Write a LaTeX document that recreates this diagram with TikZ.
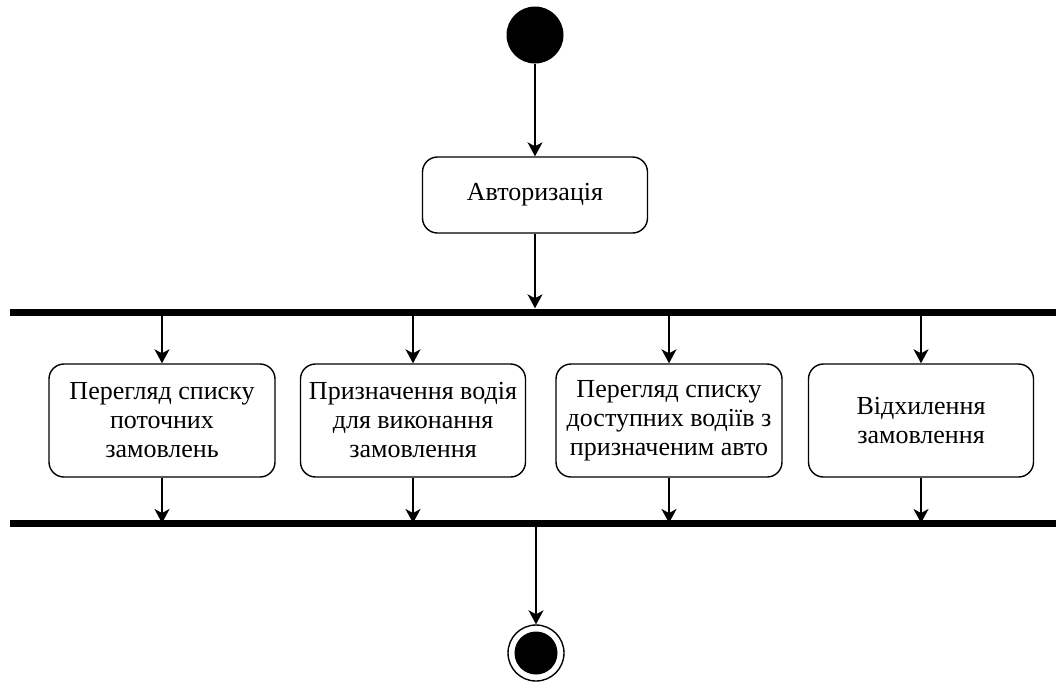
\documentclass[tikz,border=0pt]{standalone}
\usepackage{fontspec}
\setmainfont{Liberation Serif}
\usetikzlibrary{arrows.meta}
\begin{document}
\begin{tikzpicture}[x=1pt,y=-1pt,
  flow/.style={draw=black,line width=1.7pt,-{Stealth[length=14pt,width=15pt,inset=4pt]}},
  action/.style={draw=black,line width=1.4pt,rounded corners=15pt,fill=white,
    align=center,font=\fontsize{26}{29}\selectfont,inner sep=0pt},
  syncbar/.style={fill=black,draw=none,minimum height=7pt,inner sep=0pt},
  initial/.style={circle,fill=black,minimum size=57pt,inner sep=0pt},
  finalring/.style={circle,draw=black,line width=1.4pt,fill=white,minimum size=56pt,inner sep=0pt},
]
\useasboundingbox (0,0) rectangle (1056,686);

% start and first activity
\node[initial] (start) at (535,35) {};
\node[action,minimum width=225pt,minimum height=76pt] (auth) at (535,195) {Авторизація};

% fork and join bars
\node[syncbar,minimum width=1046pt] (fork) at (533,312) {};
\node[syncbar,minimum width=1046pt] (join) at (533,523) {};

% parallel activities
\node[action,minimum width=226pt,minimum height=113pt] (a1) at (162,420.5)
  {Перегляд списку\\поточних\\замовлень};
\node[action,minimum width=225pt,minimum height=113pt] (a2) at (413,420.5)
  {Призначення водія\\для виконання\\замовлення};
\node[action,minimum width=226pt,minimum height=113pt] (a3) at (669,420.5)
  {Перегляд списку\\доступних водіїв з\\призначеним авто};
\node[action,minimum width=225pt,minimum height=113pt] (a4) at (921,420.5)
  {Відхилення\\замовлення};

% final node
\node[finalring] (stop) at (536,653) {};
\node[circle,fill=black,minimum size=43pt,inner sep=0pt] (stopdot) at (stop) {};

% connectors
\draw[flow] (start) -- (auth);
\draw[flow] (auth) -- (auth |- fork.north);
\foreach \a in {a1,a2,a3,a4}{
  \draw[flow] (\a.north |- fork.south) -- (\a.north);
  \draw[flow] (\a.south) -- (\a.south |- join.center);
}
\draw[flow] (stop |- join.south) -- (stop.north);
\end{tikzpicture}
\end{document}
